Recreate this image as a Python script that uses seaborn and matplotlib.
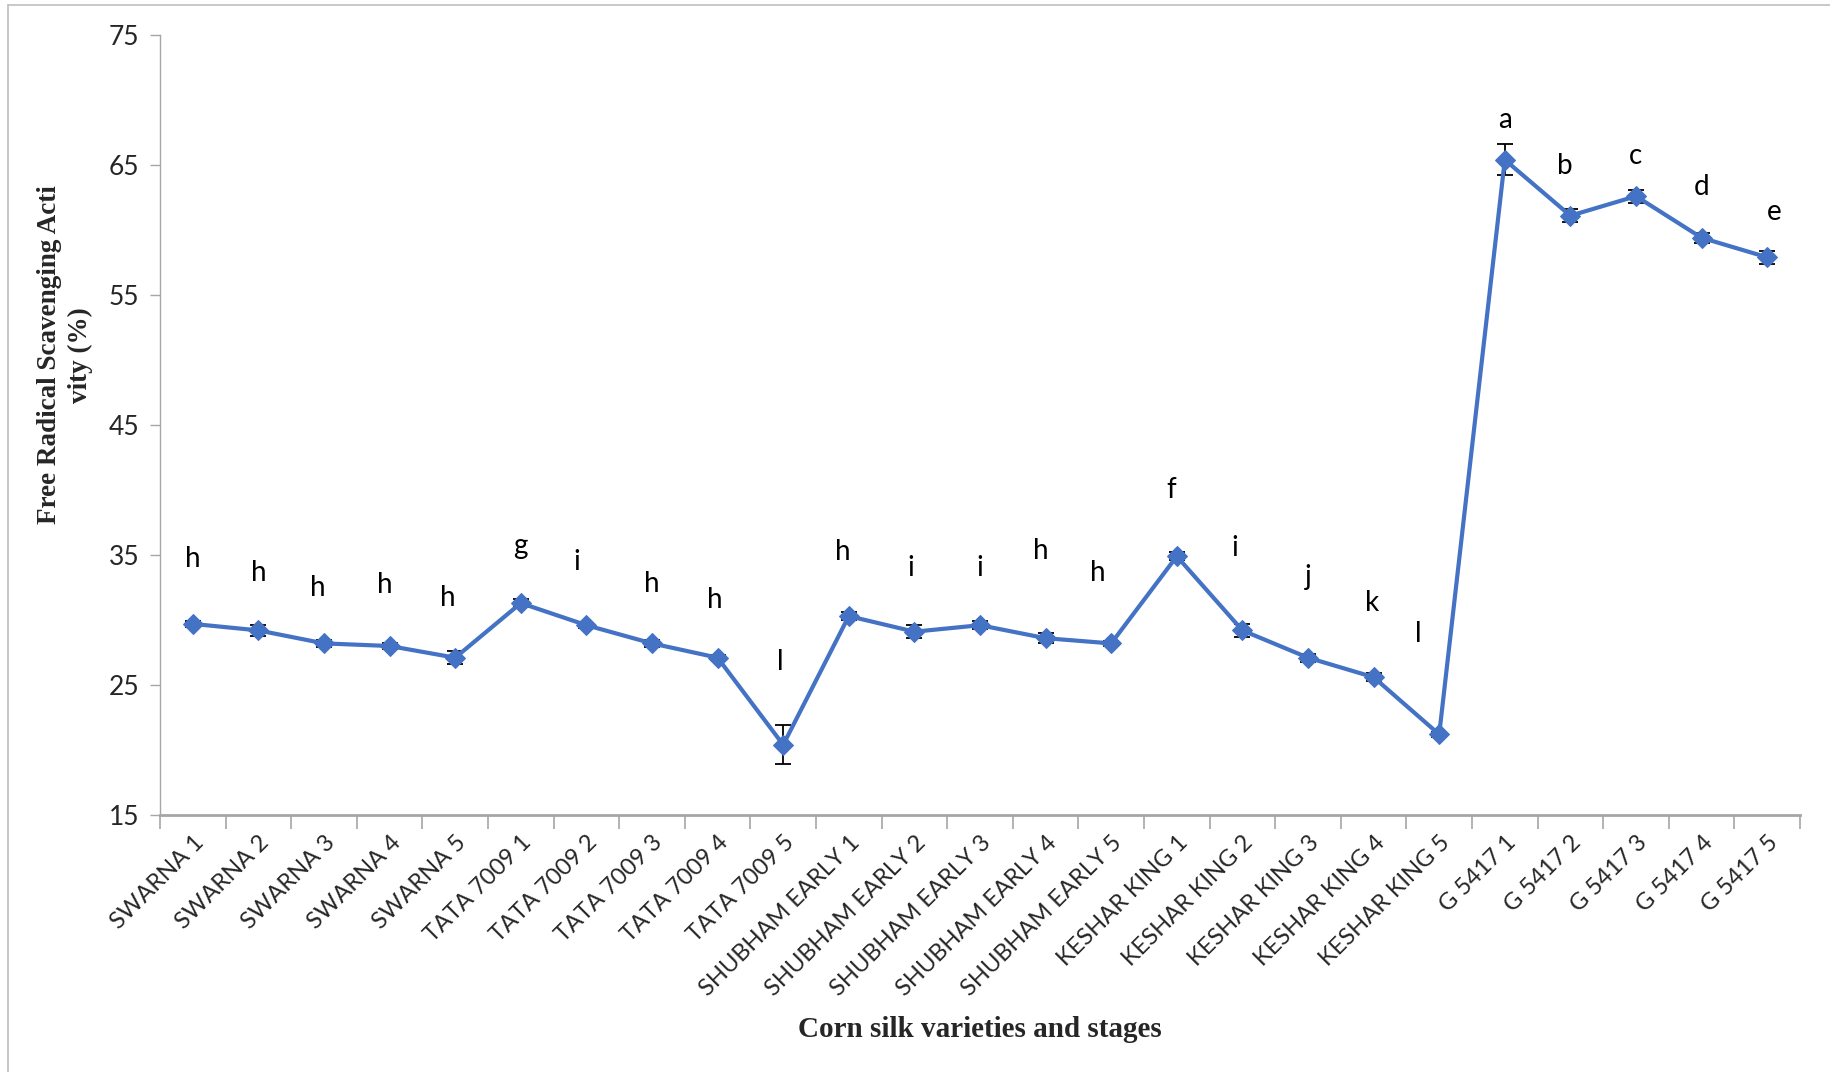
import numpy as np
import pandas as pd
import matplotlib
matplotlib.use("Agg")
import matplotlib.pyplot as plt
from matplotlib.lines import Line2D
import seaborn as sns

# Corn silk samples: variety + harvest stage
varieties = ["SWARNA", "TATA 7009", "SHUBHAM EARLY", "KESHAR KING", "G 5417"]
stages = [1, 2, 3, 4, 5]
samples = [f"{v} {s}" for v in varieties for s in stages]

# Free radical scavenging activity (%) and standard errors
activity = [29.7, 29.2, 28.2, 28.0, 27.1,
            31.3, 29.6, 28.2, 27.1, 20.4,
            30.3, 29.1, 29.6, 28.6, 28.2,
            34.9, 29.2, 27.1, 25.6, 21.2,
            65.4, 61.1, 62.6, 59.4, 57.9]
std_err = [0.2, 0.4, 0.3, 0.2, 0.5,
           0.3, 0.2, 0.3, 0.2, 1.5,
           0.3, 0.5, 0.3, 0.4, 0.2,
           0.3, 0.5, 0.3, 0.3, 0.2,
           1.2, 0.5, 0.5, 0.4, 0.5]

# Significance groups (Duncan letters)
letters = ["h", "h", "h", "h", "h",
           "g", "i", "h", "h", "l",
           "h", "i", "i", "h", "h",
           "f", "i", "j", "k", "l",
           "a", "b", "c", "d", "e"]
letter_height = [34.7, 33.6, 32.5, 32.7, 31.7,
                 35.7, 34.5, 32.8, 31.5, 26.8,
                 35.2, 34.0, 34.0, 35.3, 33.6,
                 40.0, 35.5, 33.3, 31.3, 28.9,
                 68.5, 64.9, 65.7, 63.3, 61.4]
letter_shift = [0.0, 0.0, -0.1, -0.07, -0.12,
                0.0, -0.14, 0.0, -0.05, -0.04,
                -0.09, -0.05, 0.0, -0.07, -0.2,
                -0.09, -0.12, 0.0, -0.03, -0.32,
                0.0, -0.09, 0.0, 0.0, 0.1]

df = pd.DataFrame({"sample": samples, "activity": activity, "se": std_err})

sns.set_theme(style="white")
plt.rcParams["font.family"] = ["Lato", "DejaVu Sans"]

W, H = 1830, 1072
fig = plt.figure(figsize=(W / 100, H / 100), dpi=100)
ax = fig.add_axes([160 / W, 1 - 815 / H, (1800 - 160) / W, (815 - 35) / H])

blue = "#4472C4"
grey = "#A6A6A6"

x = np.arange(len(samples))
ax.errorbar(x, df["activity"], yerr=df["se"], fmt="none", ecolor="black",
            elinewidth=1.3, capsize=6, capthick=1.3, zorder=2)
sns.lineplot(data=df, x="sample", y="activity", sort=False, ax=ax,
             color=blue, linewidth=3.0, marker="D", markersize=10,
             markeredgecolor=blue, zorder=3)

for i, (lab, h, dx) in enumerate(zip(letters, letter_height, letter_shift)):
    ax.text(i + dx, h, lab, ha="center", va="center", fontsize=20,
            color="black", family=["Lato", "DejaVu Sans"])

ax.set_xlim(-0.5, len(samples) - 0.5)
ax.set_ylim(15, 75)
ax.set_yticks([15, 25, 35, 45, 55, 65, 75])
ax.tick_params(axis="y", which="major", direction="out", length=7, width=1,
               color=grey, labelsize=19, pad=8, left=True)
ax.set_xticks(x)
ax.set_xticklabels(samples, rotation=45, ha="right", rotation_mode="anchor",
                   fontsize=17)
ax.tick_params(axis="x", which="major", length=0, pad=12)
ax.set_xticks(np.arange(-0.5, len(samples), 1), minor=True)
ax.tick_params(axis="x", which="minor", direction="out", length=10, width=1.2,
               color=grey, bottom=True)

for side in ["top", "right"]:
    ax.spines[side].set_visible(False)
ax.spines["left"].set_color(grey)
ax.spines["left"].set_linewidth(1)
ax.spines["bottom"].set_color(grey)
ax.spines["bottom"].set_linewidth(2)
ax.grid(False)

ax.set_xlabel("Corn silk varieties and stages", fontsize=21, fontweight="bold",
              family=["Liberation Serif"], labelpad=12)
ax.set_ylabel("Free Radical Scavenging Acti\nvity (%)", fontsize=19.5,
              fontweight="bold", family=["Liberation Serif"], linespacing=1.3)
ax.yaxis.set_label_coords(-0.041, 0.59)

# Outer chart frame
fig.add_artist(Line2D([8 / W, 8 / W], [0, 1 - 5 / H], transform=fig.transFigure,
                      color="#BFBFBF", linewidth=1.2))
fig.add_artist(Line2D([8 / W, 1], [1 - 5 / H, 1 - 5 / H], transform=fig.transFigure,
                      color="#BFBFBF", linewidth=1.2))

fig.savefig("out.png", dpi=100, facecolor="white")
